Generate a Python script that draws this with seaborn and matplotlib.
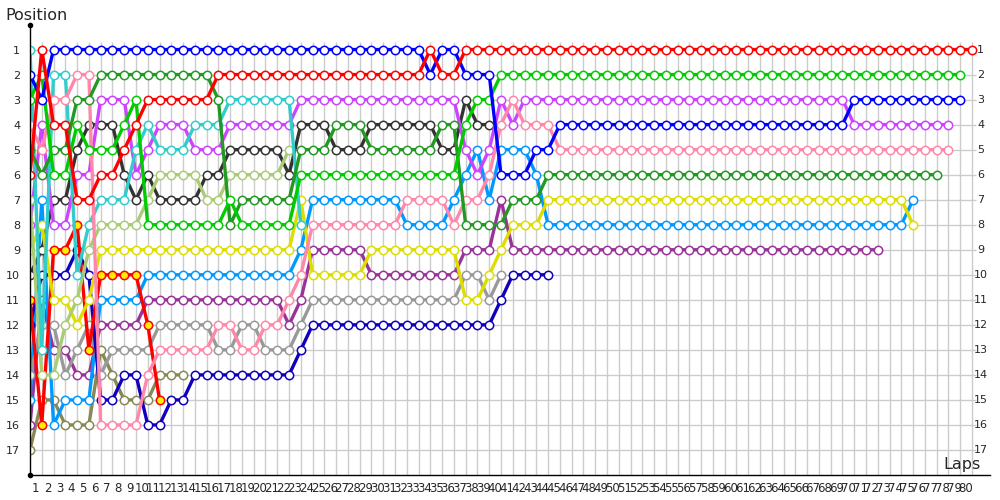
import pandas as pd
import matplotlib
matplotlib.use("Agg")
import matplotlib.pyplot as plt
import seaborn as sns

# positions lap by lap (lap 0 = grid)
blue = [2, 3, 1, 1, 1, 1, 1, 1, 1, 1,
        1, 1, 1, 1, 1, 1, 1, 1, 1, 1,
        1, 1, 1, 1, 1, 1, 1, 1, 1, 1,
        1, 1, 1, 1, 2, 1, 1, 2, 2, 2,
        6, 6, 6, 5, 5, 4, 4, 4, 4, 4,
        4, 4, 4, 4, 4, 4, 4, 4, 4, 4,
        4, 4, 4, 4, 4, 4, 4, 4, 4, 4,
        3, 3, 3, 3, 3, 3, 3, 3, 3, 3]
red = [6, 1, 4, 4, 7, 7, 6, 6, 5, 4,
       3, 3, 3, 3, 3, 3, 2, 2, 2, 2,
       2, 2, 2, 2, 2, 2, 2, 2, 2, 2,
       2, 2, 2, 2, 1, 2, 2, 1, 1, 1,
       1, 1, 1, 1, 1, 1, 1, 1, 1, 1,
       1, 1, 1, 1, 1, 1, 1, 1, 1, 1,
       1, 1, 1, 1, 1, 1, 1, 1, 1, 1,
       1, 1, 1, 1, 1, 1, 1, 1, 1, 1,
       1]
green = [3, 2, 6, 6, 4, 5, 5, 5, 4, 3,
         8, 8, 8, 8, 8, 8, 8, 7, 8, 8,
         8, 8, 8, 6, 6, 6, 6, 6, 6, 6,
         6, 6, 6, 6, 6, 6, 6, 4, 3, 3,
         2, 2, 2, 2, 2, 2, 2, 2, 2, 2,
         2, 2, 2, 2, 2, 2, 2, 2, 2, 2,
         2, 2, 2, 2, 2, 2, 2, 2, 2, 2,
         2, 2, 2, 2, 2, 2, 2, 2, 2, 2]
dark_green = [5, 6, 5, 5, 3, 3, 2, 2, 2, 2,
              2, 2, 2, 2, 2, 2, 3, 8, 7, 7,
              7, 7, 7, 5, 5, 5, 4, 4, 4, 5,
              5, 5, 5, 5, 5, 4, 4, 8, 8, 8,
              8, 7, 7, 7, 6, 6, 6, 6, 6, 6,
              6, 6, 6, 6, 6, 6, 6, 6, 6, 6,
              6, 6, 6, 6, 6, 6, 6, 6, 6, 6,
              6, 6, 6, 6, 6, 6, 6, 6]
pink = [4, 5, 3, 3, 2, 2, 16, 16, 16, 16,
        14, 13, 13, 13, 13, 13, 12, 12, 13, 13,
        12, 12, 11, 10, 8, 8, 8, 8, 8, 8,
        8, 8, 7, 7, 7, 7, 8, 7, 7, 6,
        4, 3, 4, 4, 4, 5, 5, 5, 5, 5,
        5, 5, 5, 5, 5, 5, 5, 5, 5, 5,
        5, 5, 5, 5, 5, 5, 5, 5, 5, 5,
        5, 5, 5, 5, 5, 5, 5, 5, 5]
cyan = [1, 13, 2, 2, 10, 8, 7, 7, 7, 5,
        4, 5, 5, 5, 4, 4, 4, 3, 3, 3,
        3, 3, 3, 8]
yellow_green = [7, 14, 14, 12, 11, 9, 8, 8, 8, 8,
                7, 6, 6, 6, 6, 7, 7, 6, 6, 6,
                6, 6, 5]
violet = [8, 4, 8, 8, 6, 6, 3, 3, 3, 6,
          5, 4, 4, 4, 5, 5, 5, 4, 4, 4,
          4, 4, 4, 3, 3, 3, 3, 3, 3, 3,
          3, 3, 3, 3, 3, 3, 3, 5, 6, 5,
          3, 4, 3, 3, 3, 3, 3, 3, 3, 3,
          3, 3, 3, 3, 3, 3, 3, 3, 3, 3,
          3, 3, 3, 3, 3, 3, 3, 3, 3, 3,
          4, 4, 4, 4, 4, 4, 4, 4, 4]
yellow = [9, 8, 11, 11, 12, 11, 9, 9, 9, 9,
          9, 9, 9, 9, 9, 9, 9, 9, 9, 9,
          9, 9, 9, 7, 10, 10, 10, 10, 10, 9,
          9, 9, 9, 9, 9, 9, 9, 11, 11, 10,
          9, 8, 8, 8, 7, 7, 7, 7, 7, 7,
          7, 7, 7, 7, 7, 7, 7, 7, 7, 7,
          7, 7, 7, 7, 7, 7, 7, 7, 7, 7,
          7, 7, 7, 7, 7, 8]
black = [10, 9, 7, 7, 5, 4, 4, 4, 6, 7,
         6, 7, 7, 7, 7, 6, 6, 5, 5, 5,
         5, 5, 6, 4, 4, 4, 5, 5, 5, 4,
         4, 4, 4, 4, 4, 5, 5, 3, 4, 4]
red_yellow = [11, 16, 9, 9, 8, 13, 10, 10, 10, 10, 12, 15]
navy = [12, 10, 10, 10, 9, 10, 15, 15, 14, 14,
        16, 16, 15, 15, 14, 14, 14, 14, 14, 14,
        14, 14, 14, 13, 12, 12, 12, 12, 12, 12,
        12, 12, 12, 12, 12, 12, 12, 12, 12, 12,
        11, 10, 10, 10, 10]
gray = [14, 12, 12, 14, 13, 12, 14, 13, 13, 13,
        13, 12, 12, 12, 12, 12, 13, 13, 12, 12,
        13, 13, 13, 12, 11, 11, 11, 11, 11, 11,
        11, 11, 11, 11, 11, 11, 11, 10, 10, 11,
        10]
sky = [15, 7, 16, 15, 15, 15, 11, 11, 11, 11,
       10, 10, 10, 10, 10, 10, 10, 10, 10, 10,
       10, 10, 10, 9, 7, 7, 7, 7, 7, 7,
       7, 7, 8, 8, 8, 8, 7, 6, 5, 7,
       5, 5, 5, 6, 8, 8, 8, 8, 8, 8,
       8, 8, 8, 8, 8, 8, 8, 8, 8, 8,
       8, 8, 8, 8, 8, 8, 8, 8, 8, 8,
       8, 8, 8, 8, 8, 7]
purple = [16, 11, 13, 13, 14, 14, 12, 12, 12, 12,
          11, 11, 11, 11, 11, 11, 11, 11, 11, 11,
          11, 11, 12, 11, 9, 9, 9, 9, 9, 10,
          10, 10, 10, 10, 10, 10, 10, 9, 9, 9,
          7, 9, 9, 9, 9, 9, 9, 9, 9, 9,
          9, 9, 9, 9, 9, 9, 9, 9, 9, 9,
          9, 9, 9, 9, 9, 9, 9, 9, 9, 9,
          9, 9, 9]
olive = [17, 15, 15, 16, 16, 16, 13, 14, 15, 15, 15, 14, 14, 14]

series = {
    "olive": olive, "purple": purple, "sky": sky, "gray": gray, "navy": navy,
    "red_yellow": red_yellow, "black": black, "yellow": yellow, "violet": violet,
    "yellow_green": yellow_green, "cyan": cyan, "pink": pink,
    "dark_green": dark_green, "green": green, "blue": blue, "red": red,
}
palette = {
    "blue": "#0000FF", "red": "#FF0000", "green": "#00CC00", "dark_green": "#229922",
    "pink": "#FF88AA", "cyan": "#33CCCC", "yellow_green": "#AACC77", "violet": "#CC44FF",
    "yellow": "#DDDD00", "black": "#333333", "red_yellow": "#FF0000", "navy": "#1100BB",
    "gray": "#999999", "sky": "#0099FF", "purple": "#993399", "olive": "#888855",
}

rows = []
for name, pos in series.items():
    for lap, p in enumerate(pos):
        rows.append({"driver": name, "lap": lap, "pos": p})
df = pd.DataFrame(rows)

sns.set_style("white")
plt.rcParams["font.family"] = ["DejaVu Sans"]

fig, ax = plt.subplots(figsize=(10, 5), dpi=100)
fig.subplots_adjust(left=0.03, right=0.99, bottom=0.05, top=0.951)

n_laps = 80
ax.vlines(range(1, n_laps + 1), 0.7, 18, color="#CCCCCC", lw=1, zorder=0)
ax.hlines(range(1, 18), 0, 80.3, color="#CCCCCC", lw=1, zorder=0)

sns.lineplot(data=df, x="lap", y="pos", hue="driver", palette=palette,
             hue_order=list(series.keys()), legend=False, errorbar=None,
             lw=2.4, marker="o", markersize=6, markerfacecolor="white", ax=ax)

for line, name in zip(ax.get_lines(), series.keys()):
    line.set_markeredgecolor(palette[name])
    line.set_markeredgewidth(1.1)
    line.set_markerfacecolor("#FFEE00" if name == "red_yellow" else "white")

ax.set_xlim(0, 81.53)
ax.set_ylim(18, 0)

ax.set_yticks(range(1, 18))
ax.set_yticklabels([str(i) for i in range(1, 18)], fontsize=8)
ax.set_xticks([i - 0.5 for i in range(1, n_laps + 1)])
ax.set_xticklabels([str(i) for i in range(1, n_laps + 1)], fontsize=8.5)
ax.tick_params(axis="y", length=0, pad=7)
ax.tick_params(axis="x", length=0, pad=5)
for i in range(1, 18):
    ax.text(80.75, i, str(i), fontsize=8, ha="center", va="center")

ax.set_xlabel("")
ax.set_ylabel("")
for side in ["top", "right"]:
    ax.spines[side].set_visible(False)
for side in ["left", "bottom"]:
    ax.spines[side].set_color("black")
    ax.spines[side].set_linewidth(1)
ax.plot([0, 0], [0, 18], "o", color="black", ms=3, clip_on=False, zorder=5)

fig.text(0.005, 0.968, "Position", fontsize=11.5, va="center", ha="left")
fig.text(0.943, 0.07, "Laps", fontsize=11.5, va="center", ha="left")

fig.savefig("out.png", dpi=100)
